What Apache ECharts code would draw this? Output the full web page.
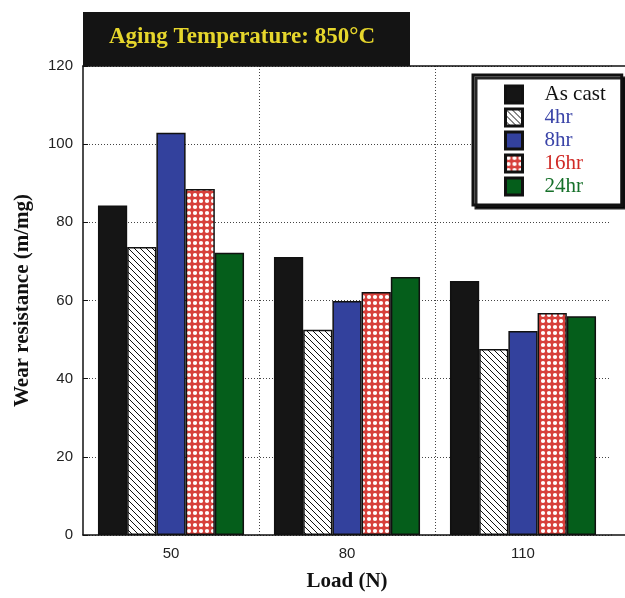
<!DOCTYPE html>
<html>
<head>
<meta charset="utf-8">
<script src="https://cdn.jsdelivr.net/npm/echarts@6/dist/echarts.min.js"></script>
<style>
  html, body { margin: 0; padding: 0; background: #fff; }
  #main { width: 625px; height: 598px; }
</style>
</head>
<body>
<div id="main"></div>
<script>
// data
var loads = ['50', '80', '110'];
var seriesNames = ['As cast', '4hr', '8hr', '16hr', '24hr'];
var asCast = [84.3, 71.1, 65.0];
var hr4 = [73.7, 52.5, 47.6];
var hr8 = [102.9, 59.9, 52.2];
var hr16 = [88.5, 62.2, 56.8];
var hr24 = [72.2, 66.0, 56.0];
var yTicks = [0, 20, 40, 60, 80, 100, 120];

var serif = '"Liberation Serif", "DejaVu Serif", serif';
var sans = '"Liberation Sans", Arial, sans-serif';

// hatch "\\\" pattern
function hatchPattern() {
    var s = 6;
    var c = document.createElement('canvas');
    c.width = s; c.height = s;
    var g = c.getContext('2d');
    g.fillStyle = '#fff';
    g.fillRect(0, 0, s, s);
    g.strokeStyle = '#111';
    g.lineWidth = 1;
    [-s, 0, s].forEach(function (o) {
        g.beginPath();
        g.moveTo(o - 1, -1);
        g.lineTo(o + s + 1, s + 1);
        g.stroke();
    });
    return c;
}
// red with white dots
function dotPattern() {
    var s = 6;
    var c = document.createElement('canvas');
    c.width = s; c.height = s;
    var g = c.getContext('2d');
    g.fillStyle = '#d7403b';
    g.fillRect(0, 0, s, s);
    g.fillStyle = '#fff';
    g.beginPath();
    g.arc(3, 3, 2.1, 0, Math.PI * 2);
    g.fill();
    return c;
}

var colors = [
    '#151515',
    { image: hatchPattern(), repeat: 'repeat' },
    '#33419d',
    { image: dotPattern(), repeat: 'repeat' },
    '#055e1b'
];
var textColors = ['#111', '#3a44a8', '#3a44a8', '#d02a26', '#16702a'];
var values = [asCast, hr4, hr8, hr16, hr24];

var dom = document.getElementById('main');
var chart = echarts.init(dom, null, { renderer: 'canvas' });

var option = {
    animation: false,
    backgroundColor: '#fff',
    title: {
        text: 'Aging Temperature: 850°C',
        left: 109,
        top: 26,
        padding: 0,
        textStyle: { color: '#e6d62c', fontFamily: serif, fontWeight: 'bold', fontSize: 23 }
    },
    graphic: [
        { type: 'rect', z: 5, shape: { x: 83, y: 12, width: 327, height: 54 }, style: { fill: '#141414' } },
        { type: 'line', z: 1, shape: { x1: 611, y1: 66, x2: 625, y2: 66 }, style: { stroke: '#111', lineWidth: 1.5 } },
        { type: 'line', z: 1, shape: { x1: 611, y1: 535, x2: 625, y2: 535 }, style: { stroke: '#111', lineWidth: 1.5 } }
    ],
    legend: {
        data: seriesNames.map(function (n, i) {
            return { name: n, textStyle: { color: textColors[i] } };
        }),
        orient: 'vertical',
        icon: 'rect',
        left: 473,
        top: 75,
        padding: [9, 16, 8, 31],
        itemWidth: 17,
        itemHeight: 17,
        itemGap: 2,
        backgroundColor: '#fff',
        borderColor: '#111',
        borderWidth: 3,
        shadowColor: 'rgba(0,0,0,0.85)',
        shadowOffsetX: 3,
        shadowOffsetY: 3,
        shadowBlur: 0,
        itemStyle: { borderColor: '#111', borderWidth: 3 },
        textStyle: { fontFamily: serif, fontSize: 21, padding: [0, 0, 0, 17] }
    },
    grid: { left: 83, right: 14, top: 66, bottom: 63 },
    xAxis: [{
        type: 'category',
        data: loads,
        name: 'Load (N)',
        nameLocation: 'middle',
        nameGap: 36,
        nameTextStyle: { fontFamily: serif, fontWeight: 'bold', fontSize: 21, color: '#111' },
        axisLine: { lineStyle: { color: '#111', width: 1.5 } },
        axisTick: { inside: true, length: 11, lineStyle: { color: '#111' } },
        axisLabel: { margin: 11, fontFamily: sans, fontSize: 15, color: '#222' },
        splitLine: {
            show: true,
            showMinLine: false,
            showMaxLine: false,
            lineStyle: { color: '#444', type: [1, 2], width: 1 }
        }
    }, {
        type: 'category',
        data: loads,
        position: 'top',
        axisLine: { lineStyle: { color: '#111', width: 1.5 } },
        axisTick: { show: false },
        axisLabel: { show: false },
        splitLine: { show: false }
    }],
    yAxis: {
        type: 'value',
        min: yTicks[0],
        max: yTicks[yTicks.length - 1],
        interval: 20,
        name: 'Wear resistance (m/mg)',
        nameLocation: 'middle',
        nameGap: 50,
        nameRotate: 90,
        nameTextStyle: { fontFamily: serif, fontWeight: 'bold', fontSize: 21, color: '#111' },
        axisLine: { show: true, lineStyle: { color: '#111', width: 1.5 } },
        axisTick: { show: true, inside: true, length: 5, lineStyle: { color: '#111' } },
        axisLabel: { margin: 10, fontFamily: sans, fontSize: 15, color: '#222' },
        splitLine: { show: true, lineStyle: { color: '#444', type: [1, 2], width: 1 } }
    },
    series: seriesNames.map(function (n, i) {
        return {
            name: n,
            type: 'bar',
            data: values[i],
            barGap: '0%',
            barCategoryGap: '17%',
            itemStyle: { color: colors[i], borderColor: '#111', borderWidth: 1.5 }
        };
    })
};

chart.setOption(option);
</script>
</body>
</html>
